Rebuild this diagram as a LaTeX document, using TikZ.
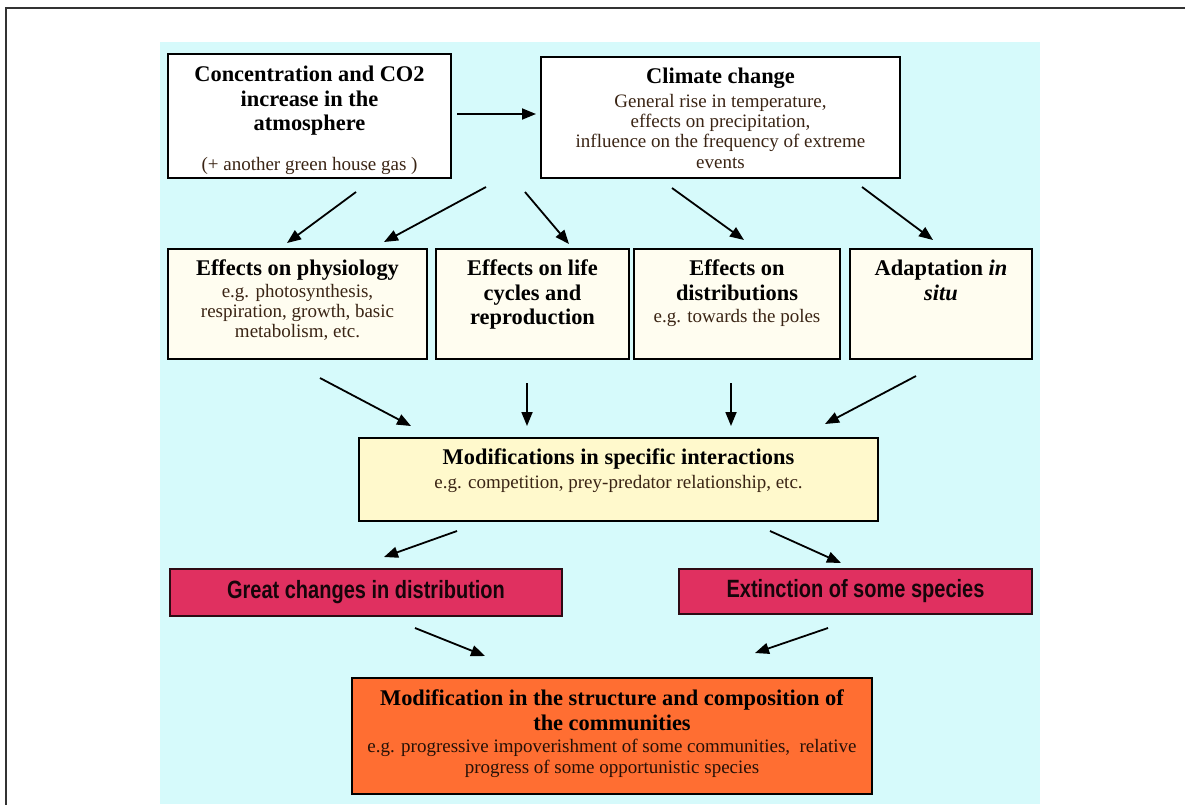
\documentclass[tikz,border=0pt]{standalone}
\usepackage{fontspec}
\setmainfont{Liberation Serif}
\newfontfamily\condsans[FakeStretch=0.8]{Liberation Sans}
\usetikzlibrary{arrows.meta}
\definecolor{bgcyan}{HTML}{D6FAFB}
\definecolor{cream}{HTML}{FFFDF0}
\definecolor{lightyel}{HTML}{FFF9CC}
\definecolor{crimson}{HTML}{E03060}
\definecolor{orangebox}{HTML}{FF6E32}
\definecolor{darkbrown}{HTML}{3A2414}
\definecolor{framegray}{HTML}{333333}
\newcommand{\mybox}[4]{\parbox[c][#2][t]{#1}{\centering\vspace*{#3}#4}}
\newcommand{\titlef}{\fontsize{22.4}{24.5}\selectfont\bfseries}
\newcommand{\bodyf}{\fontsize{19}{20}\selectfont\mdseries\color{darkbrown}}
\tikzset{
  box/.style={draw=black, line width=1.6pt, inner sep=0pt},
  redbox/.style={draw=black!80!crimson, line width=1.3pt, fill=crimson, inner sep=0pt,
    minimum height=46pt, font=\condsans\fontsize{25}{26}\selectfont\bfseries, text=black!90!crimson},
  arr/.style={-{Triangle[length=14pt,width=11pt]}, line width=1.8pt},
}
\begin{document}
\begin{tikzpicture}[x=1pt,y=-1pt]
\useasboundingbox (0,0) rectangle (1185,804);
\fill[white] (0,0) rectangle (1185,804);
% outer frame
\draw[framegray, line width=2pt] (6,812) -- (6,8) -- (1190,8);
% background panel
\fill[bgcyan] (160,42) rectangle (1040,804);

% top row
\node[box, fill=white] (conc) at (309.5,116)
  {\mybox{283pt}{124pt}{12pt}{\titlef Concentration and CO2\\ increase in the\\ atmosphere\par\vspace{20pt}\bodyf (+ another green house gas )}};
\node[box, fill=white] (clim) at (720.5,117.5)
  {\mybox{359pt}{121pt}{11pt}{\titlef Climate change\par\vspace{4pt}\bodyf General rise in temperature,\\ effects on precipitation,\\ influence on the frequency of extreme\\[1pt] events}};

% second row
\node[box, fill=cream] (phys) at (297.5,304)
  {\mybox{259pt}{110pt}{11pt}{\titlef Effects on physiology\par\vspace{2pt}\bodyf e.g. photosynthesis,\\ respiration, growth, basic\\ metabolism, etc.}};
\node[box, fill=cream] (life) at (532.5,304)
  {\mybox{193pt}{110pt}{11pt}{\titlef Effects on life\\ cycles and\\ reproduction}};
\node[box, fill=cream] (distr) at (737,304)
  {\mybox{206pt}{110pt}{11pt}{\titlef Effects on\\ distributions\par\vspace{2pt}\bodyf e.g. towards the poles}};
\node[box, fill=cream] (adapt) at (941,304)
  {\mybox{182pt}{110pt}{11pt}{\titlef Adaptation \textit{in}\\ \textit{situ}}};

% middle
\node[box, fill=lightyel] (inter) at (618.5,479.5)
  {\mybox{519pt}{83pt}{11pt}{\titlef Modifications in specific interactions\par\vspace{4pt}\bodyf e.g. competition, prey-predator relationship, etc.}};

% red boxes
\node[redbox, minimum width=392pt, minimum height=47pt] (great) at (366,592.5) {Great changes in distribution};
\node[redbox, minimum width=353pt, minimum height=45pt] (ext) at (855.5,591.5) {Extinction of some species};

% final
\node[box, fill=orangebox] (final) at (612,736)
  {\mybox{520pt}{116pt}{12pt}{\titlef Modification in the structure and composition of\\ the communities\par\vspace{1pt}\bodyf\fontsize{19}{21}\selectfont\color{black!85!orangebox} e.g. progressive impoverishment of some communities,\ \ relative\\ progress of some opportunistic species}};

% arrow end points
\coordinate (a1s) at (457,114);  \coordinate (a1e) at (536,114);
\coordinate (a2s) at (356,192);  \coordinate (a2e) at (287,243);
\coordinate (a3s) at (486,187);  \coordinate (a3e) at (384,242);
\coordinate (a4s) at (525,192);  \coordinate (a4e) at (569,244);
\coordinate (a5s) at (672,188);  \coordinate (a5e) at (744,240);
\coordinate (a6s) at (862,187);  \coordinate (a6e) at (933,240);
\coordinate (a7s) at (320,378);  \coordinate (a7e) at (411,426);
\coordinate (a8s) at (527,383);  \coordinate (a8e) at (527,426);
\coordinate (a9s) at (731,383);  \coordinate (a9e) at (731,426);
\coordinate (a10s) at (916,376); \coordinate (a10e) at (825,424);
\coordinate (a11s) at (457,531); \coordinate (a11e) at (384,557);
\coordinate (a12s) at (770,531); \coordinate (a12e) at (841,563);
\coordinate (a13s) at (415,628); \coordinate (a13e) at (485,656);
\coordinate (a14s) at (828,628); \coordinate (a14e) at (755,653);

\foreach \i in {1,...,14} {\draw[arr] (a\i s) -- (a\i e);}
\end{tikzpicture}
\end{document}
